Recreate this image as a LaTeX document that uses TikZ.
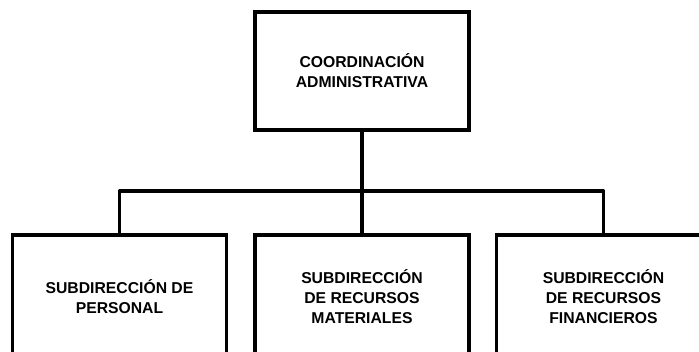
\documentclass[tikz,border=0pt]{standalone}
\usepackage{fontspec}
\setmainfont{Liberation Sans}

\tikzset{
  unitbox/.style={draw, line width=2.4pt, minimum width=160.5pt, minimum height=88.5pt,
    inner sep=0pt, align=center, font=\fontsize{11.8}{15}\selectfont\bfseries},
  lowbox/.style={unitbox, minimum height=93pt},
  link/.style={line width=2.4pt, line join=round}
}

\begin{document}
\begin{tikzpicture}[x=0.75pt,y=0.75pt,yscale=-1,xscale=1]
\useasboundingbox (0,0) rectangle (699,352);

%Shape: Rectangle [coordinacion]
\node [unitbox] (coord) at (362,71) {COORDINACIÓN\\ADMINISTRATIVA};

%Shape: Rectangle [subdirecciones]
\node [lowbox] (personal) at (119.5,297) {SUBDIRECCIÓN DE\\PERSONAL};
\node [lowbox] (materiales) at (362,297) {SUBDIRECCIÓN\\DE RECURSOS\\MATERIALES};
\node [lowbox] (financieros) at (603.5,297) {SUBDIRECCIÓN\\DE RECURSOS\\FINANCIEROS};

%Lines
\coordinate (bus) at (362,191);
\draw [link] (coord.south) -- (materiales.north);
\draw [link] (personal.north) |- (bus) -| (financieros.north);

\end{tikzpicture}
\end{document}
